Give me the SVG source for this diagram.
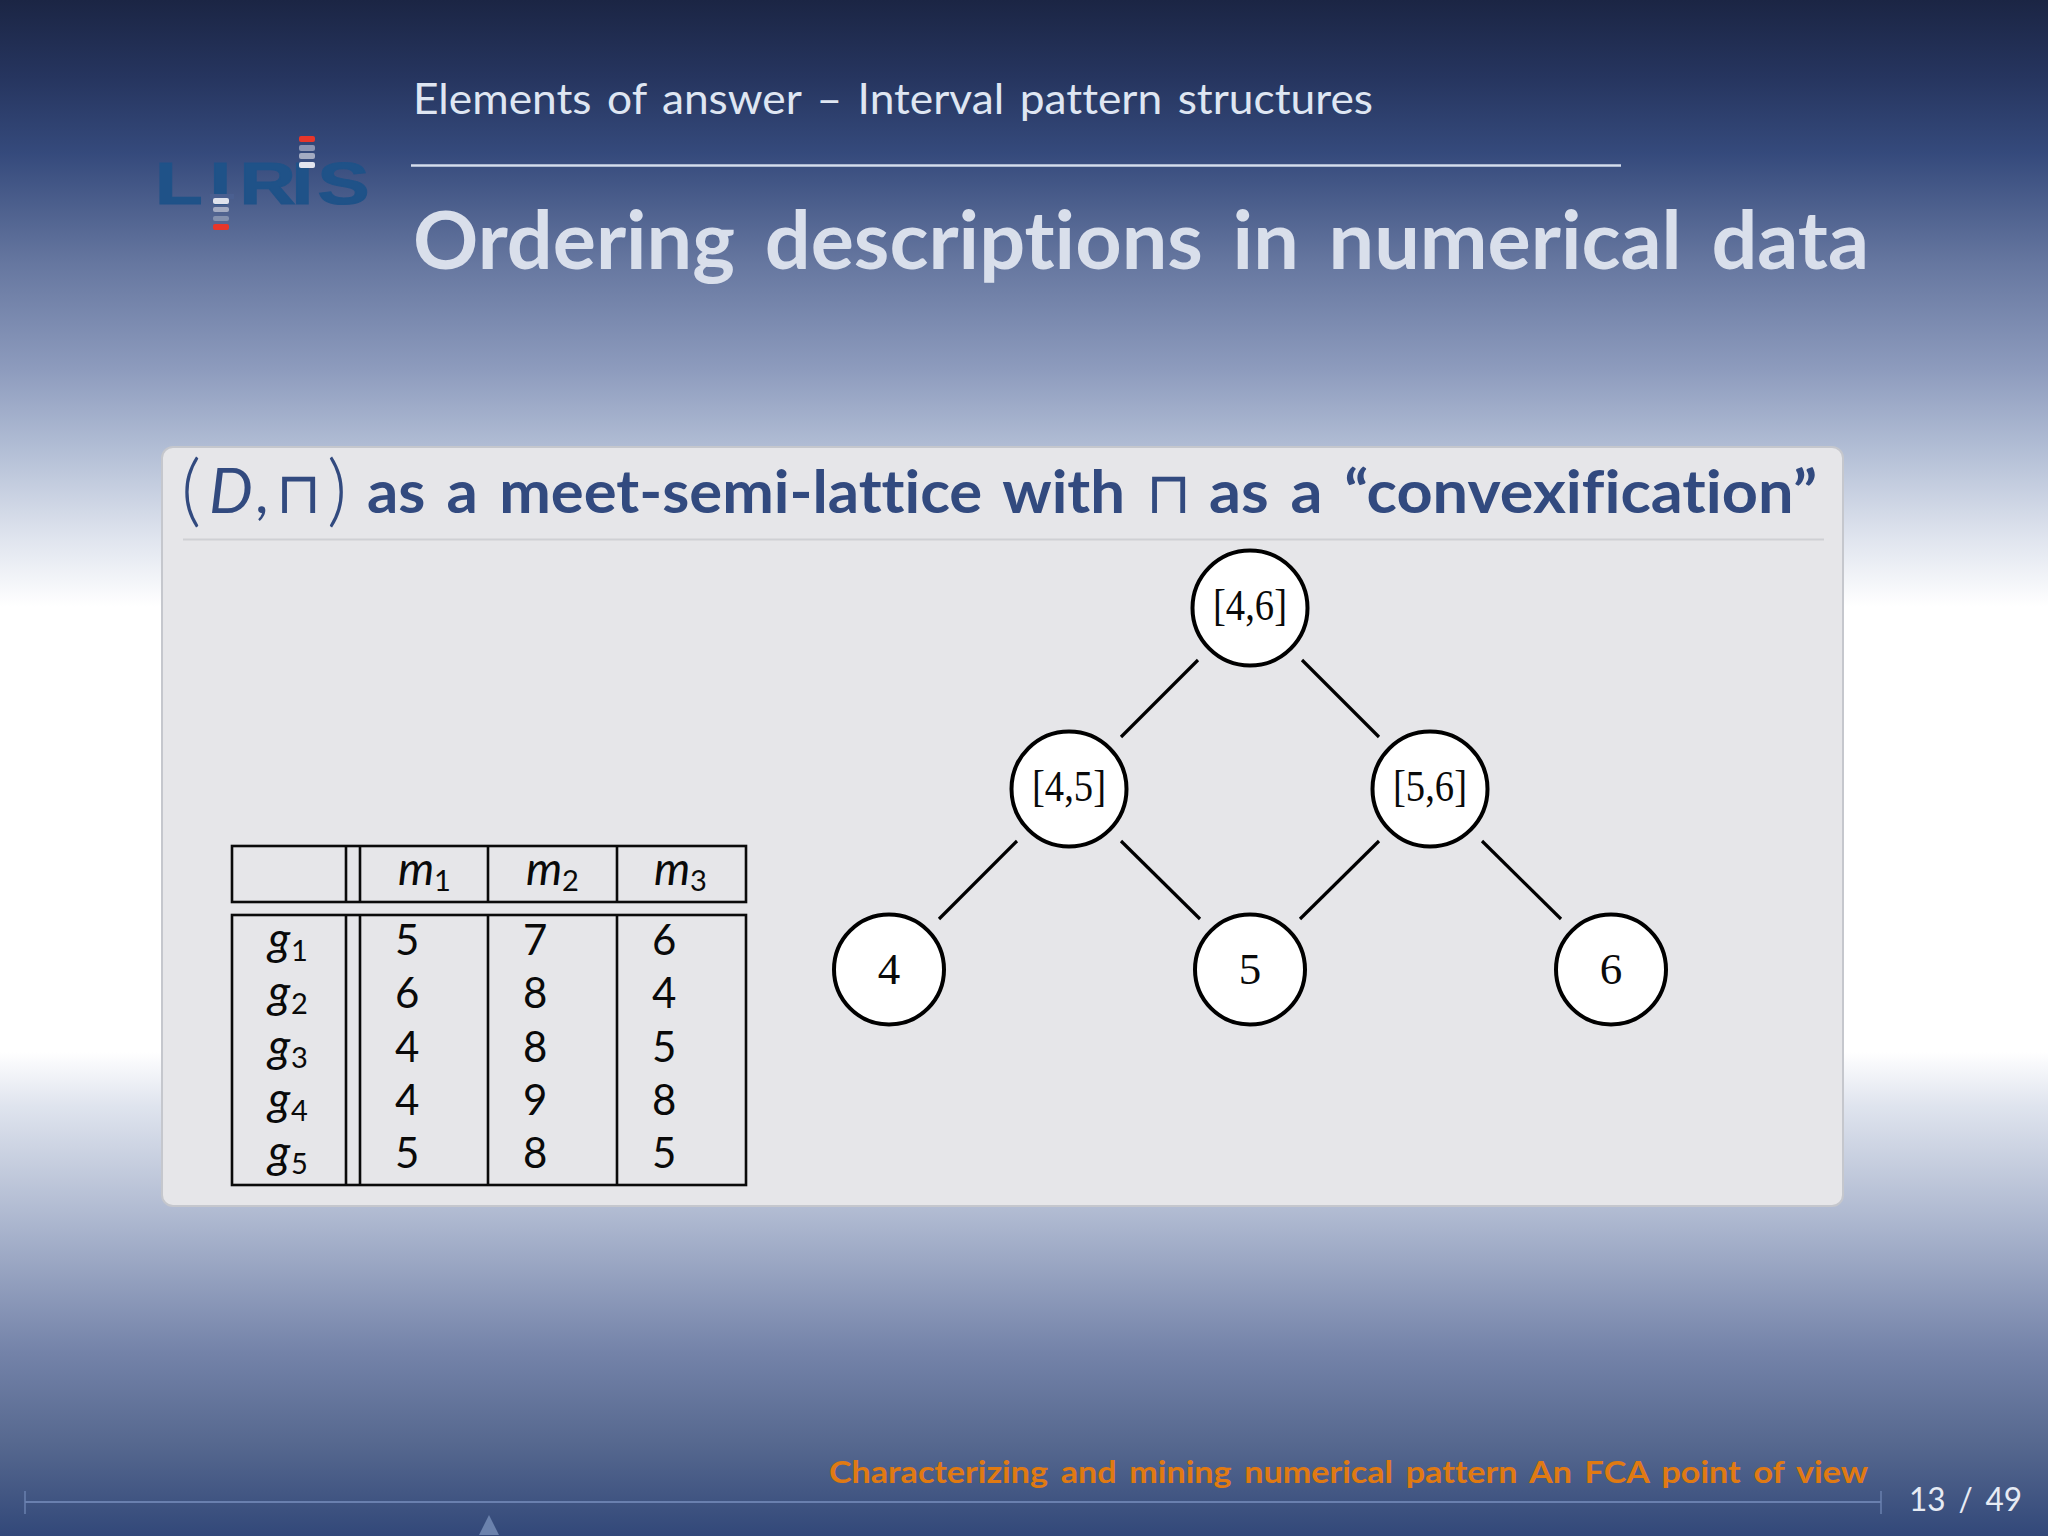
<svg xmlns="http://www.w3.org/2000/svg" width="2048" height="1536" viewBox="0 0 2048 1536">
<style>
.s{font-family:"Lato","Noto Sans","Liberation Sans",sans-serif;font-variant-ligatures:none}
.t{font-size:42px;fill:#0a0a0a}
.i{font-style:italic}
.m{font-size:46px}
.sub{font-size:29px;font-style:normal}
.n{font-family:"Liberation Serif",serif;font-size:45px;fill:#0a0a0a;text-anchor:middle}
.c{fill:#fff;stroke:#000;stroke-width:4}
.l{stroke:#000;stroke-width:3.200;fill:none}
.g{fill:none;stroke:#0a0a0a;stroke-width:2.600}
.h{fill:#324a7f;font-size:59px}
.p{font-size:78px;font-weight:300}
.q{font-family:"DejaVu Sans",sans-serif;font-size:58px;font-weight:200}
</style>
<defs>
<linearGradient id="bg" gradientUnits="userSpaceOnUse" x1="0" y1="0" x2="0" y2="1536">
<stop offset="0" stop-color="#1b2544"/>
<stop offset="0.05" stop-color="#26355f"/>
<stop offset="0.1" stop-color="#354a7c"/>
<stop offset="0.17" stop-color="#65769f"/>
<stop offset="0.24" stop-color="#8d9bbd"/>
<stop offset="0.29" stop-color="#b0bcd4"/>
<stop offset="0.35" stop-color="#dfe4ee"/>
<stop offset="0.395" stop-color="#ffffff"/>
<stop offset="0.685" stop-color="#ffffff"/>
<stop offset="0.72" stop-color="#dfe4ee"/>
<stop offset="0.8" stop-color="#a9b4cd"/>
<stop offset="0.88" stop-color="#7483a9"/>
<stop offset="0.94" stop-color="#56688f"/>
<stop offset="1" stop-color="#324879"/>
</linearGradient>
</defs>
<rect id="background" width="2048" height="1536" fill="url(#bg)"/>
<g id="logo">
<text transform="translate(155,204) scale(1.3,1)" x="0 42 65 105 125" y="0" font-family="Liberation Sans" font-weight="700" font-size="60" fill="#1f5288" stroke="#1f5288" stroke-width="1.200">LIRIS</text>
<rect x="210" y="194" width="24" height="5" fill="#4a5f90"/>
<g>
<rect x="299" y="136" width="16" height="6" rx="2" fill="#e8362a"/>
<rect x="299" y="145" width="16" height="6" rx="2" fill="#8a94b2"/>
<rect x="299" y="153" width="16" height="6" rx="2" fill="#a3abc2"/>
<rect x="299" y="162" width="16" height="6" rx="2" fill="#e3e5ef"/>
<rect x="213" y="198" width="16" height="6" rx="2" fill="#dfe2ec"/>
<rect x="213" y="207" width="16" height="5" rx="2" fill="#a3abc2"/>
<rect x="213" y="216" width="16" height="5" rx="2" fill="#8390ae"/>
<rect x="213" y="224" width="16" height="6" rx="2" fill="#e8362a"/>
</g>
</g>
<g id="header">
<text class="s" x="413" y="114" font-size="42" fill="#dfe6f2" textLength="960" lengthAdjust="spacingAndGlyphs" word-spacing="4">Elements of answer – Interval pattern structures</text>
<line x1="411" y1="165.500" x2="1621" y2="165.500" stroke="#d5ddec" stroke-width="2.500"/>
<text class="s" x="413" y="269" font-size="80" font-weight="700" fill="#d9dfeb" textLength="1456" lengthAdjust="spacingAndGlyphs" word-spacing="10">Ordering descriptions in numerical data</text>
</g>
<g id="block">
<rect x="162" y="447" width="1681" height="759" rx="11" fill="#e6e6e9" stroke="#c5c7cd" stroke-width="2"/>
<line x1="183" y1="539.500" x2="1824" y2="539.500" stroke="#cfd0d4" stroke-width="2"/>
<g class="s h">
<text class="p" x="181" y="517">(</text>
<text x="209" y="513" class="i" font-size="62">D</text>
<text x="255" y="513">,</text>
<text class="q" x="276" y="513">⊓</text>
<text class="p" x="327" y="517">)</text>
<text x="367" y="513" font-weight="700" textLength="758" lengthAdjust="spacingAndGlyphs" word-spacing="6">as a meet-semi-lattice with</text>
<text class="q" x="1146" y="513">⊓</text>
<text x="1209" y="513" font-weight="700" textLength="608" lengthAdjust="spacingAndGlyphs" word-spacing="6">as a “convexification”</text>
</g>
</g>
<g id="table">
<rect class="g" x="232" y="846" width="514" height="56"/>
<rect class="g" x="232" y="915" width="514" height="270"/>
<path class="g" d="M346 846V902M360 846V902M488 846V902M617 846V902M346 915V1185M360 915V1185M488 915V1185M617 915V1185"/>
<g class="s t">
<text class="i m" x="398" y="885">m<tspan class="sub" x="434" y="891">1</tspan></text>
<text class="i m" x="526" y="885">m<tspan class="sub" x="562" y="891">2</tspan></text>
<text class="i m" x="654" y="885">m<tspan class="sub" x="690" y="891">3</tspan></text>
<text class="i m" x="268" y="955">g<tspan class="sub" x="291" y="961">1</tspan></text>
<text class="i m" x="268" y="1008">g<tspan class="sub" x="291" y="1014">2</tspan></text>
<text class="i m" x="268" y="1062">g<tspan class="sub" x="291" y="1068">3</tspan></text>
<text class="i m" x="268" y="1115">g<tspan class="sub" x="291" y="1121">4</tspan></text>
<text class="i m" x="268" y="1168">g<tspan class="sub" x="291" y="1174">5</tspan></text>
<text x="395" y="955">5</text><text x="523" y="955">7</text><text x="652" y="955">6</text>
<text x="395" y="1008">6</text><text x="523" y="1008">8</text><text x="652" y="1008">4</text>
<text x="395" y="1062">4</text><text x="523" y="1062">8</text><text x="652" y="1062">5</text>
<text x="395" y="1115">4</text><text x="523" y="1115">9</text><text x="652" y="1115">8</text>
<text x="395" y="1168">5</text><text x="523" y="1168">8</text><text x="652" y="1168">5</text>
</g>
</g>
<g id="connectors">
<line class="l" x1="1198" y1="660" x2="1121" y2="737"/>
<line class="l" x1="1302" y1="660" x2="1379" y2="737"/>
<line class="l" x1="1017" y1="841" x2="939" y2="919"/>
<line class="l" x1="1121" y1="841" x2="1200" y2="919"/>
<line class="l" x1="1379" y1="841" x2="1300" y2="919"/>
<line class="l" x1="1482" y1="841" x2="1561" y2="919"/>
</g>
<g id="n46"><circle class="c" cx="1250" cy="608" r="57.500"/><text class="n" x="1250" y="620" textLength="74" lengthAdjust="spacingAndGlyphs">[4,6]</text></g>
<g id="n45"><circle class="c" cx="1069" cy="789" r="57.500"/><text class="n" x="1069" y="801" textLength="74" lengthAdjust="spacingAndGlyphs">[4,5]</text></g>
<g id="n56"><circle class="c" cx="1430" cy="789" r="57.500"/><text class="n" x="1430" y="801" textLength="74" lengthAdjust="spacingAndGlyphs">[5,6]</text></g>
<g id="n4"><circle class="c" cx="889" cy="969.500" r="55"/><text class="n" x="889" y="984">4</text></g>
<g id="n5"><circle class="c" cx="1250" cy="969.500" r="55"/><text class="n" x="1250" y="984">5</text></g>
<g id="n6"><circle class="c" cx="1611" cy="969.500" r="55"/><text class="n" x="1611" y="984">6</text></g>
<g id="footer">
<text class="s" x="829" y="1483" font-size="31" font-weight="700" fill="#e07a12" textLength="1039" lengthAdjust="spacingAndGlyphs" word-spacing="4">Characterizing and mining numerical pattern An FCA point of view</text>
<line x1="25" y1="1502" x2="1881" y2="1502" stroke="#6a80af" stroke-width="2"/>
<path d="M25 1491V1514M1881 1491V1514" stroke="#6a80af" stroke-width="1.500" fill="none"/>
<path d="M489 1515L499 1535H479Z" fill="#6b82ad"/>
<text class="s" x="1909" y="1511" font-size="33" fill="#e6ebf4" textLength="113" lengthAdjust="spacingAndGlyphs" word-spacing="5">13 / 49</text>
</g>
</svg>
